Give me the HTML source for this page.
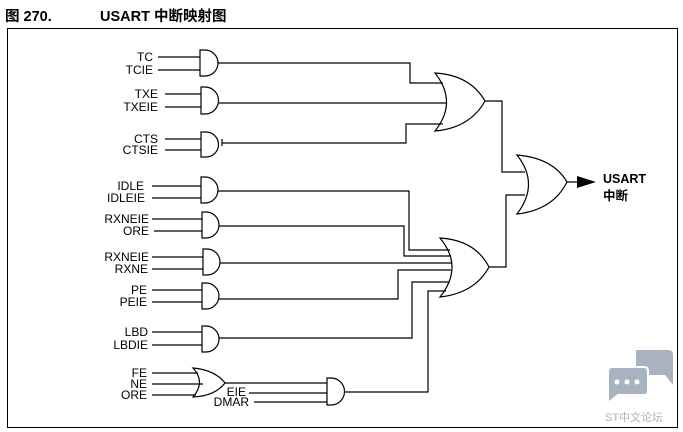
<!DOCTYPE html>
<html><head><meta charset="utf-8"><style>
body{margin:0;background:#fff;width:683px;height:432px;overflow:hidden}
svg{display:block}
text{font-family:"Liberation Sans","Noto Sans CJK SC",sans-serif}
</style></head><body>
<svg width="683" height="432" xmlns="http://www.w3.org/2000/svg">
<text x="5" y="21" font-size="14.5" font-weight="bold" fill="#000">图 270.</text>
<text x="100" y="21" font-size="14.5" font-weight="bold" fill="#000">USART 中断映射图</text>
<rect x="7.5" y="28.5" width="670" height="399" fill="none" stroke="#000" stroke-width="1"/>
<g fill="none" stroke="#000" stroke-width="1.2">
<path d="M200,50 H205 A13,13 0 0 1 205,76 H200 Z"/>
<path d="M201,87 H205 A13.5,13.5 0 0 1 205,114 H201 Z"/>
<path d="M201,132 H206 A12.5,12.5 0 0 1 206,157 H201 Z"/>
<path d="M201,177 H205 A13,13 0 0 1 205,203 H201 Z"/>
<path d="M202,212 H206 A13,13 0 0 1 206,238 H202 Z"/>
<path d="M203,249 H207 A13,13 0 0 1 207,275 H203 Z"/>
<path d="M202,283 H206 A13,13 0 0 1 206,309 H202 Z"/>
<path d="M202,326 H206 A13,13 0 0 1 206,352 H202 Z"/>
<path d="M327,378 H331 A13.5,13.5 0 0 1 331,405 H327 Z"/>
<path d="M193,368 Q206,382 193,397 Q215,396 225,383 Q215,370 193,368 Z"/>
<path d="M435,73 Q458,102 435,131 Q470,128 485,101 Q470,75 435,73 Z"/>
<path d="M440,238 Q464,267 440,297 Q475,293 489,267 Q475,240 440,238 Z"/>
<path d="M517,155 Q540,184 517,214 Q553,210 567,182 Q553,158 517,155 Z"/>
<path d="M158,57H200 M158,70H200 M165,94H201 M165,107H201 M165,139H201 M165,150H201
M152,186H201 M152,198H201 M152,219H202 M154,231H202 M152,257H203 M152,269H203
M152,290H202 M152,302H202 M152,332H202 M152,345H202
M152,373H198 M152,384H203 M152,395H196 M225,383H327 M249,393H327 M254,402H327"/>
<path d="M218,63H410V83H443 M219,103H446 M222,143H406V124H443 M222,139V146
M218,191H409V250H450 M219,226H404V256H451 M220,263H452 M219,299H398V270H451
M219,338H412V282H449 M344,392H428V291H446
M485,101H502V172H525 M489,267H506V195H525 M567,182H578"/>
</g>
<path d="M577,176 L596,182 L577,188 Z" fill="#000"/>
<g font-size="12" fill="#000" text-anchor="end">
<text x="153" y="61">TC</text><text x="153" y="74">TCIE</text>
<text x="158" y="98">TXE</text><text x="158" y="111">TXEIE</text>
<text x="158" y="143">CTS</text><text x="158" y="154">CTSIE</text>
<text x="144" y="190">IDLE</text><text x="145" y="202">IDLEIE</text>
<text x="149" y="223">RXNEIE</text><text x="149" y="235">ORE</text>
<text x="149" y="261">RXNEIE</text><text x="148" y="273">RXNE</text>
<text x="147" y="294">PE</text><text x="147" y="306">PEIE</text>
<text x="148" y="336">LBD</text><text x="148" y="349">LBDIE</text>
<text x="147" y="377">FE</text><text x="147" y="388">NE</text><text x="147" y="399">ORE</text>
<text x="246" y="396">EIE</text><text x="249" y="406">DMAR</text>
</g>
<text x="603" y="183" font-size="12.5" font-weight="bold">USART</text>
<text x="603" y="200" font-size="12.5" font-weight="bold">中断</text>
<g fill="#a9b3bf">
<path d="M636,350 H668 Q673,350 673,355 V385 L665,375 H636 Z"/>
<path d="M610,367 H644 Q648,367 648,371 V391 Q648,395 644,395 H618 L608,403 V371 Q608,367 612,367 Z" stroke="#fff" stroke-width="2"/>
</g>
<g fill="#fff"><circle cx="617" cy="382" r="2.5"/><circle cx="627" cy="382" r="2.5"/><circle cx="637" cy="382" r="2.5"/></g>
<text x="605" y="421" font-size="11" fill="#a9b3bf">ST中文论坛</text>
</svg>
</body></html>
